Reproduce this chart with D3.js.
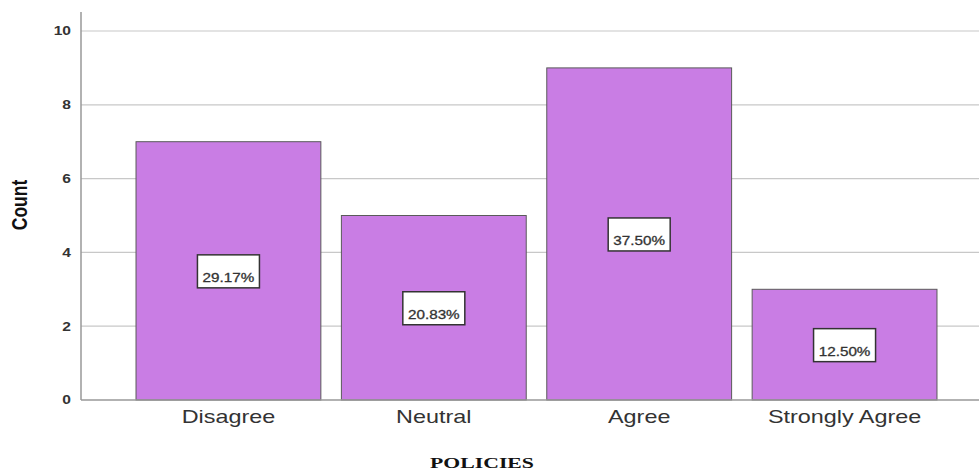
<!DOCTYPE html>
<html>
<head>
<meta charset="utf-8">
<script src="https://cdn.jsdelivr.net/npm/d3@7"></script>
<style>
  html, body { margin: 0; padding: 0; background: #fff; }
  svg { display: block; }
</style>
</head>
<body>
<svg id="chart" width="979" height="470"></svg>
<script>
// Response categories and their counts
const categories = ["Disagree", "Neutral", "Agree", "Strongly Agree"];
const counts = [7, 5, 9, 3];
const percentLabels = ["29.17%", "20.83%", "37.50%", "12.50%"];
const yTicks = [0, 2, 4, 6, 8, 10];

const svg = d3.select("#chart");
const W = 979;
const axisX = 81, baseY = 400, topY = 12;
const WIDEN = 1.3; // horizontal stretch applied to the lettering
const sans = "Liberation Sans, Arial, sans-serif";

const x = d3.scaleBand()
  .domain(categories)
  .range([125.75, 947.25])
  .paddingInner(0.1)
  .paddingOuter(0.05);

const y = d3.scaleLinear()
  .domain([0, 10])
  .range([baseY, 31]);

// Horizontal gridlines
svg.append("g")
  .selectAll("line")
  .data(yTicks.filter(d => d > 0))
  .join("line")
  .attr("x1", axisX).attr("x2", W)
  .attr("y1", d => y(d)).attr("y2", d => y(d))
  .attr("stroke", "#c8c8c8").attr("stroke-width", 1.2);

// Bars
svg.append("g")
  .selectAll("rect")
  .data(categories)
  .join("rect")
  .attr("x", d => x(d))
  .attr("y", (d, i) => y(counts[i]))
  .attr("width", x.bandwidth())
  .attr("height", (d, i) => y(0) - y(counts[i]))
  .attr("fill", "#c97de4")
  .attr("stroke", "#5a5a5a")
  .attr("stroke-width", 1);

// Y axis
const yAxis = d3.axisLeft(y).tickValues(yTicks).tickSize(0).tickPadding(0);
const gy = svg.append("g").attr("transform", `translate(${axisX},0)`).call(yAxis);
gy.select(".domain").remove();
gy.selectAll(".tick text")
  .attr("x", -10 / WIDEN)
  .attr("transform", `scale(${WIDEN},1)`)
  .attr("font-family", sans)
  .attr("font-size", 12)
  .attr("font-weight", "bold")
  .attr("fill", "#333");
svg.append("line")
  .attr("x1", axisX).attr("x2", axisX)
  .attr("y1", topY).attr("y2", baseY)
  .attr("stroke", "#999").attr("stroke-width", 1.5);

// X axis baseline and category labels
svg.append("line")
  .attr("x1", axisX).attr("x2", W)
  .attr("y1", baseY).attr("y2", baseY)
  .attr("stroke", "#999").attr("stroke-width", 1.5);
const xAxis = d3.axisBottom(x).tickSize(0).tickPadding(10);
const gx = svg.append("g").attr("transform", `translate(0,${baseY})`).call(xAxis);
gx.select(".domain").remove();
gx.selectAll(".tick text")
  .attr("transform", `scale(${WIDEN},1)`)
  .attr("font-family", sans)
  .attr("font-size", 18)
  .attr("fill", "#333");

// Percentage labels in boxes at mid-height of each bar
const lab = svg.append("g")
  .selectAll("g")
  .data(categories)
  .join("g")
  .attr("transform", (d, i) => `translate(${x(d) + x.bandwidth() / 2},${y(counts[i] / 2)})`);
lab.append("rect")
  .attr("x", -31).attr("y", -16)
  .attr("width", 62).attr("height", 33)
  .attr("fill", "#fff")
  .attr("stroke", "#333").attr("stroke-width", 1.5);
lab.append("text")
  .attr("text-anchor", "middle")
  .attr("y", 11)
  .attr("transform", "scale(1.22,1)")
  .attr("font-family", sans)
  .attr("font-size", 12.5)
  .attr("stroke", "#333").attr("stroke-width", 0.3)
  .attr("fill", "#333")
  .text((d, i) => percentLabels[i]);

// Axis titles
svg.append("text")
  .attr("transform", `translate(27,205) scale(${WIDEN},1) rotate(-90)`)
  .attr("text-anchor", "middle")
  .attr("font-family", sans)
  .attr("font-size", 17.5)
  .attr("font-weight", "bold")
  .attr("fill", "#111")
  .text("Count");
svg.append("text")
  .attr("transform", "translate(482,468) scale(1.45,1)")
  .attr("text-anchor", "middle")
  .attr("font-family", "Liberation Serif, Times New Roman, serif")
  .attr("font-size", 15)
  .attr("font-weight", "bold")
  .attr("fill", "#111")
  .text("POLICIES");
</script>
</body>
</html>
